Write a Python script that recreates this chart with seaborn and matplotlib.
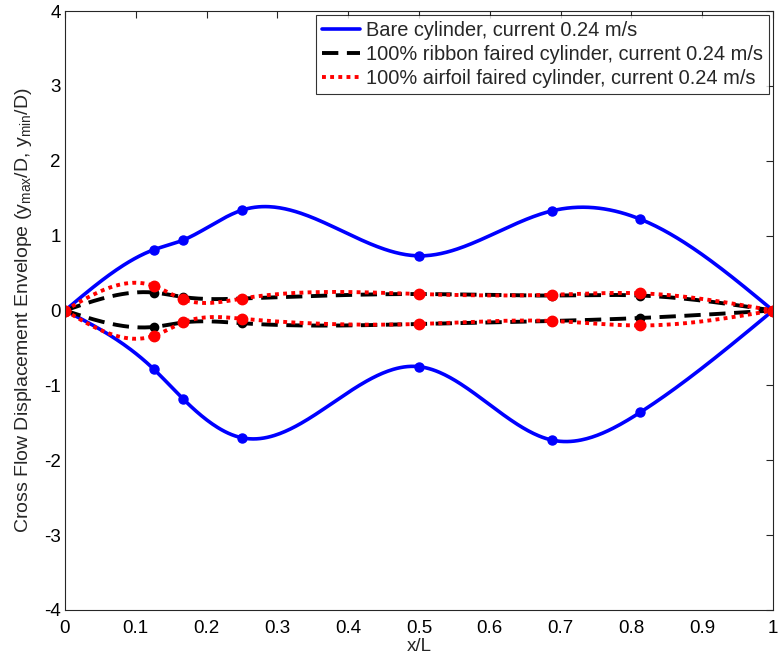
import numpy as np
import pandas as pd
import matplotlib
matplotlib.use("Agg")
import matplotlib.pyplot as plt
from matplotlib.lines import Line2D
import seaborn as sns

# Measurement stations along the riser (x/L)
x_pos = [0.0, 0.125, 0.1667, 0.25, 0.5, 0.6875, 0.8125, 1.0]

# Cross-flow displacement envelopes (y/D), upper and lower
bare_max = [0.0, 0.81, 0.94, 1.34, 0.73, 1.33, 1.22, 0.0]
bare_min = [0.0, -0.78, -1.18, -1.70, -0.75, -1.73, -1.36, 0.0]
ribbon_max = [0.0, 0.24, 0.18, 0.16, 0.22, 0.20, 0.20, 0.0]
ribbon_min = [0.0, -0.22, -0.16, -0.17, -0.18, -0.14, -0.10, 0.0]
airfoil_max = [0.0, 0.33, 0.15, 0.16, 0.22, 0.21, 0.23, 0.0]
airfoil_min = [0.0, -0.34, -0.16, -0.11, -0.18, -0.14, -0.20, 0.0]

labels = ["Bare cylinder, current 0.24 m/s",
          "100% ribbon faired cylinder, current 0.24 m/s",
          "100% airfoil faired cylinder, current 0.24 m/s"]
x_ticks = [0, 0.1, 0.2, 0.3, 0.4, 0.5, 0.6, 0.7, 0.8, 0.9, 1]
y_ticks = [-4, -3, -2, -1, 0, 1, 2, 3, 4]


def spline_curve(xk, yk, num=400):
    """Natural cubic spline through the given stations."""
    xk = np.asarray(xk, float)
    yk = np.asarray(yk, float)
    n = len(xk)
    h = np.diff(xk)
    A = np.zeros((n, n))
    b = np.zeros(n)
    A[0, 0] = 1.0
    for i in range(1, n - 1):
        A[i, i - 1] = h[i - 1]
        A[i, i] = 2 * (h[i - 1] + h[i])
        A[i, i + 1] = h[i]
        b[i] = 6 * ((yk[i + 1] - yk[i]) / h[i] - (yk[i] - yk[i - 1]) / h[i - 1])
    A[-1, -1] = 1.0
    M = np.linalg.solve(A, b)
    xs = np.linspace(xk[0], xk[-1], num)
    idx = np.clip(np.searchsorted(xk, xs) - 1, 0, n - 2)
    x0, x1 = xk[idx], xk[idx + 1]
    hh = x1 - x0
    ys = (M[idx] * (x1 - xs) ** 3 / (6 * hh) + M[idx + 1] * (xs - x0) ** 3 / (6 * hh)
          + (yk[idx] / hh - M[idx] * hh / 6) * (x1 - xs)
          + (yk[idx + 1] / hh - M[idx + 1] * hh / 6) * (xs - x0))
    return xs, ys


sns.set_style("white")
plt.rcParams["font.family"] = ["Liberation Sans", "DejaVu Sans"]
plt.rcParams["mathtext.fontset"] = "custom"
plt.rcParams["mathtext.rm"] = "Liberation Sans"

fig = plt.figure(figsize=(7.8, 6.64), dpi=100)
ax = fig.add_axes([65 / 780, 54 / 664, 708 / 780, 599 / 664])

styles = [
    dict(color="#0000ff", ls="-", lw=2.6, ms=6.5),
    dict(color="#000000", ls=(0, (4.2, 2.2)), lw=2.8, ms=6.0),
    dict(color="#ff0000", ls=(0, (1, 1.1)), lw=2.8, ms=7.5),
]
series = [(bare_max, bare_min), (ribbon_max, ribbon_min), (airfoil_max, airfoil_min)]

for (ymax, ymin), st in zip(series, styles):
    for yk in (ymax, ymin):
        xs, ys = spline_curve(x_pos, yk)
        df = pd.DataFrame({"x": xs, "y": ys})
        sns.lineplot(data=df, x="x", y="y", sort=False, ax=ax, color=st["color"],
                     linewidth=st["lw"], linestyle=st["ls"], legend=False)
        pts = pd.DataFrame({"x": x_pos, "y": yk})
        ax.plot(pts["x"], pts["y"], ls="none", marker="o", ms=st["ms"],
                color=st["color"], mec=st["color"])

ax.set_xlim(0, 1)
ax.set_ylim(-4, 4)
ax.set_xticks(x_ticks)
ax.set_xticklabels([f"{t:g}" for t in x_ticks])
ax.set_yticks(y_ticks)
ax.set_yticklabels([f"{t:g}" for t in y_ticks])
ax.tick_params(direction="in", length=5, width=0.8, top=True, right=True,
               labelsize=13.5, colors="#262626", pad=3)
ax.tick_params(axis="x", pad=7)
ax.tick_params(axis="both", labelcolor="#000000")
for sp in ax.spines.values():
    sp.set_color("#262626")
    sp.set_linewidth(0.8)

ax.set_xlabel("x/L", fontsize=13.5, labelpad=1)
ax.set_ylabel(r"Cross Flow Displacement Envelope (y$_{\mathregular{max}}$/D, y$_{\mathregular{min}}$/D)",
              fontsize=14, labelpad=7.5)

handles = [Line2D([], [], color=st["color"], ls=st["ls"], lw=st["lw"]) for st in styles]
leg = ax.legend(handles, labels, loc="upper right", bbox_to_anchor=(0.9945, 0.9935),
                fontsize=14.4, frameon=True, fancybox=False, shadow=False,
                handlelength=1.9, handletextpad=0.3, borderpad=0.3,
                labelspacing=0.25, borderaxespad=0.0)
leg.get_frame().set_edgecolor("#000000")
leg.get_frame().set_linewidth(0.8)

fig.savefig("out.png", dpi=100, facecolor="white")
